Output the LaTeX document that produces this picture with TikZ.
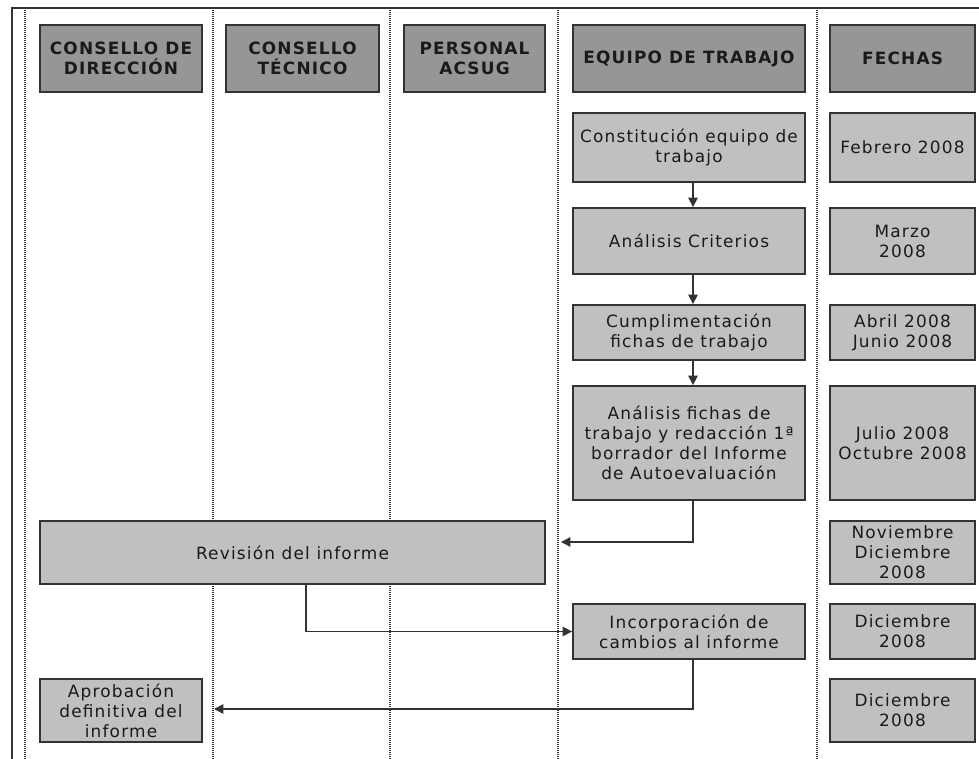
\documentclass[tikz,border=0pt]{standalone}
\usepackage{fontspec}
\setmainfont[LetterSpace=7]{DejaVu Sans}
\usetikzlibrary{arrows.meta}
\definecolor{hdrgray}{HTML}{969696}
\definecolor{boxgray}{HTML}{C0C0C0}
\definecolor{linegray}{HTML}{333333}
\definecolor{txt}{HTML}{1A1A1A}
\tikzset{
  basebox/.style={draw=linegray, line width=1.4pt, inner sep=0pt, align=center, text=txt,
    font=\fontsize{12.7}{15}\selectfont},
  hdr/.style={basebox, fill=hdrgray, font=\fontsize{12.7}{15}\selectfont\bfseries},
  proc/.style={basebox, fill=boxgray},
  lane/.style={linegray, line width=0.8pt, dash pattern=on 0.75pt off 0.75pt},
  arr/.style={draw=linegray, line width=1.1pt, -{Triangle[length=7pt,width=7pt]}},
  wh/.style n args={2}{minimum width=#1*0.75pt, minimum height=#2*0.75pt}
}
\begin{document}
\begin{tikzpicture}[x=0.75pt, y=-0.75pt]
\useasboundingbox (0,0) rectangle (979,759);
\fill[white] (0,0) rectangle (979,759);
% frame
\draw[linegray, line width=1.2pt] (12,759) -- (12,8) -- (979,8);
% lanes
\foreach \xx in {25,213,390,558,817} \draw[lane] (\xx,8) -- (\xx,759);
% headers
\node[hdr, wh={162}{67}] (hdir) at (121,58.5) {CONSELLO DE\\DIRECCIÓN};
\node[hdr, wh={153}{67}] (htec) at (302.5,58.5) {CONSELLO\\TÉCNICO};
\node[hdr, wh={141}{67}] (hper) at (474.5,58.5) {PERSONAL\\ACSUG};
\node[hdr, wh={232}{67}] (heq) at (689,58.5) {EQUIPO DE TRABAJO};
\node[hdr, wh={145}{67}] (hfe) at (902.5,58.5) {FECHAS};
% process boxes
\node[proc, wh={232}{69}] (c1) at (689,147.5) {Constitución equipo de\\trabajo};
\node[proc, wh={145}{69}] (f1) at (902.5,147.5) {Febrero 2008};
\node[proc, wh={232}{66}] (c2) at (689,241) {Análisis Criterios};
\node[proc, wh={145}{66}] (f2) at (902.5,241) {Marzo\\2008};
\node[proc, wh={232}{55}] (c3) at (689,332.5) {Cumplimentación\\fichas de trabajo};
\node[proc, wh={145}{55}] (f3) at (902.5,332.5) {Abril 2008\\Junio 2008};
\node[proc, wh={232}{114}] (c4) at (689,443) {Análisis fichas de\\trabajo y redacción 1ª\\borrador del Informe\\de Autoevaluación};
\node[proc, wh={145}{114}] (f4) at (902.5,443) {Julio 2008\\Octubre 2008};
\node[proc, wh={505}{63}] (rev) at (292.5,552.5) {Revisión del informe};
\node[proc, wh={145}{63}] (f5) at (902.5,552.5) {Noviembre\\Diciembre\\2008};
\node[proc, wh={232}{55}] (inc) at (689,631.5) {Incorporación de\\cambios al informe};
\node[proc, wh={145}{55}] (f6) at (902.5,631.5) {Diciembre\\2008};
\node[proc, wh={162}{63}] (apr) at (121,710.5) {Aprobación\\definitiva del\\informe};
\node[proc, wh={145}{63}] (f7) at (902.5,710.5) {Diciembre\\2008};
% connector end points
\coordinate (revin) at (561,542);
\coordinate (aprin) at (214,709);
% connectors
\draw[arr] ([xshift=3pt]c1.south) -- ([xshift=3pt]c2.north);
\draw[arr] ([xshift=3pt]c2.south) -- ([xshift=3pt]c3.north);
\draw[arr] ([xshift=3pt]c3.south) -- ([xshift=3pt]c4.north);
\draw[arr] ([xshift=3pt]c4.south) |- (revin);
\draw[arr] ([xshift=10pt]rev.south) |- (inc.west);
\draw[arr] ([xshift=3pt]inc.south) |- (aprin);
\end{tikzpicture}
\end{document}
